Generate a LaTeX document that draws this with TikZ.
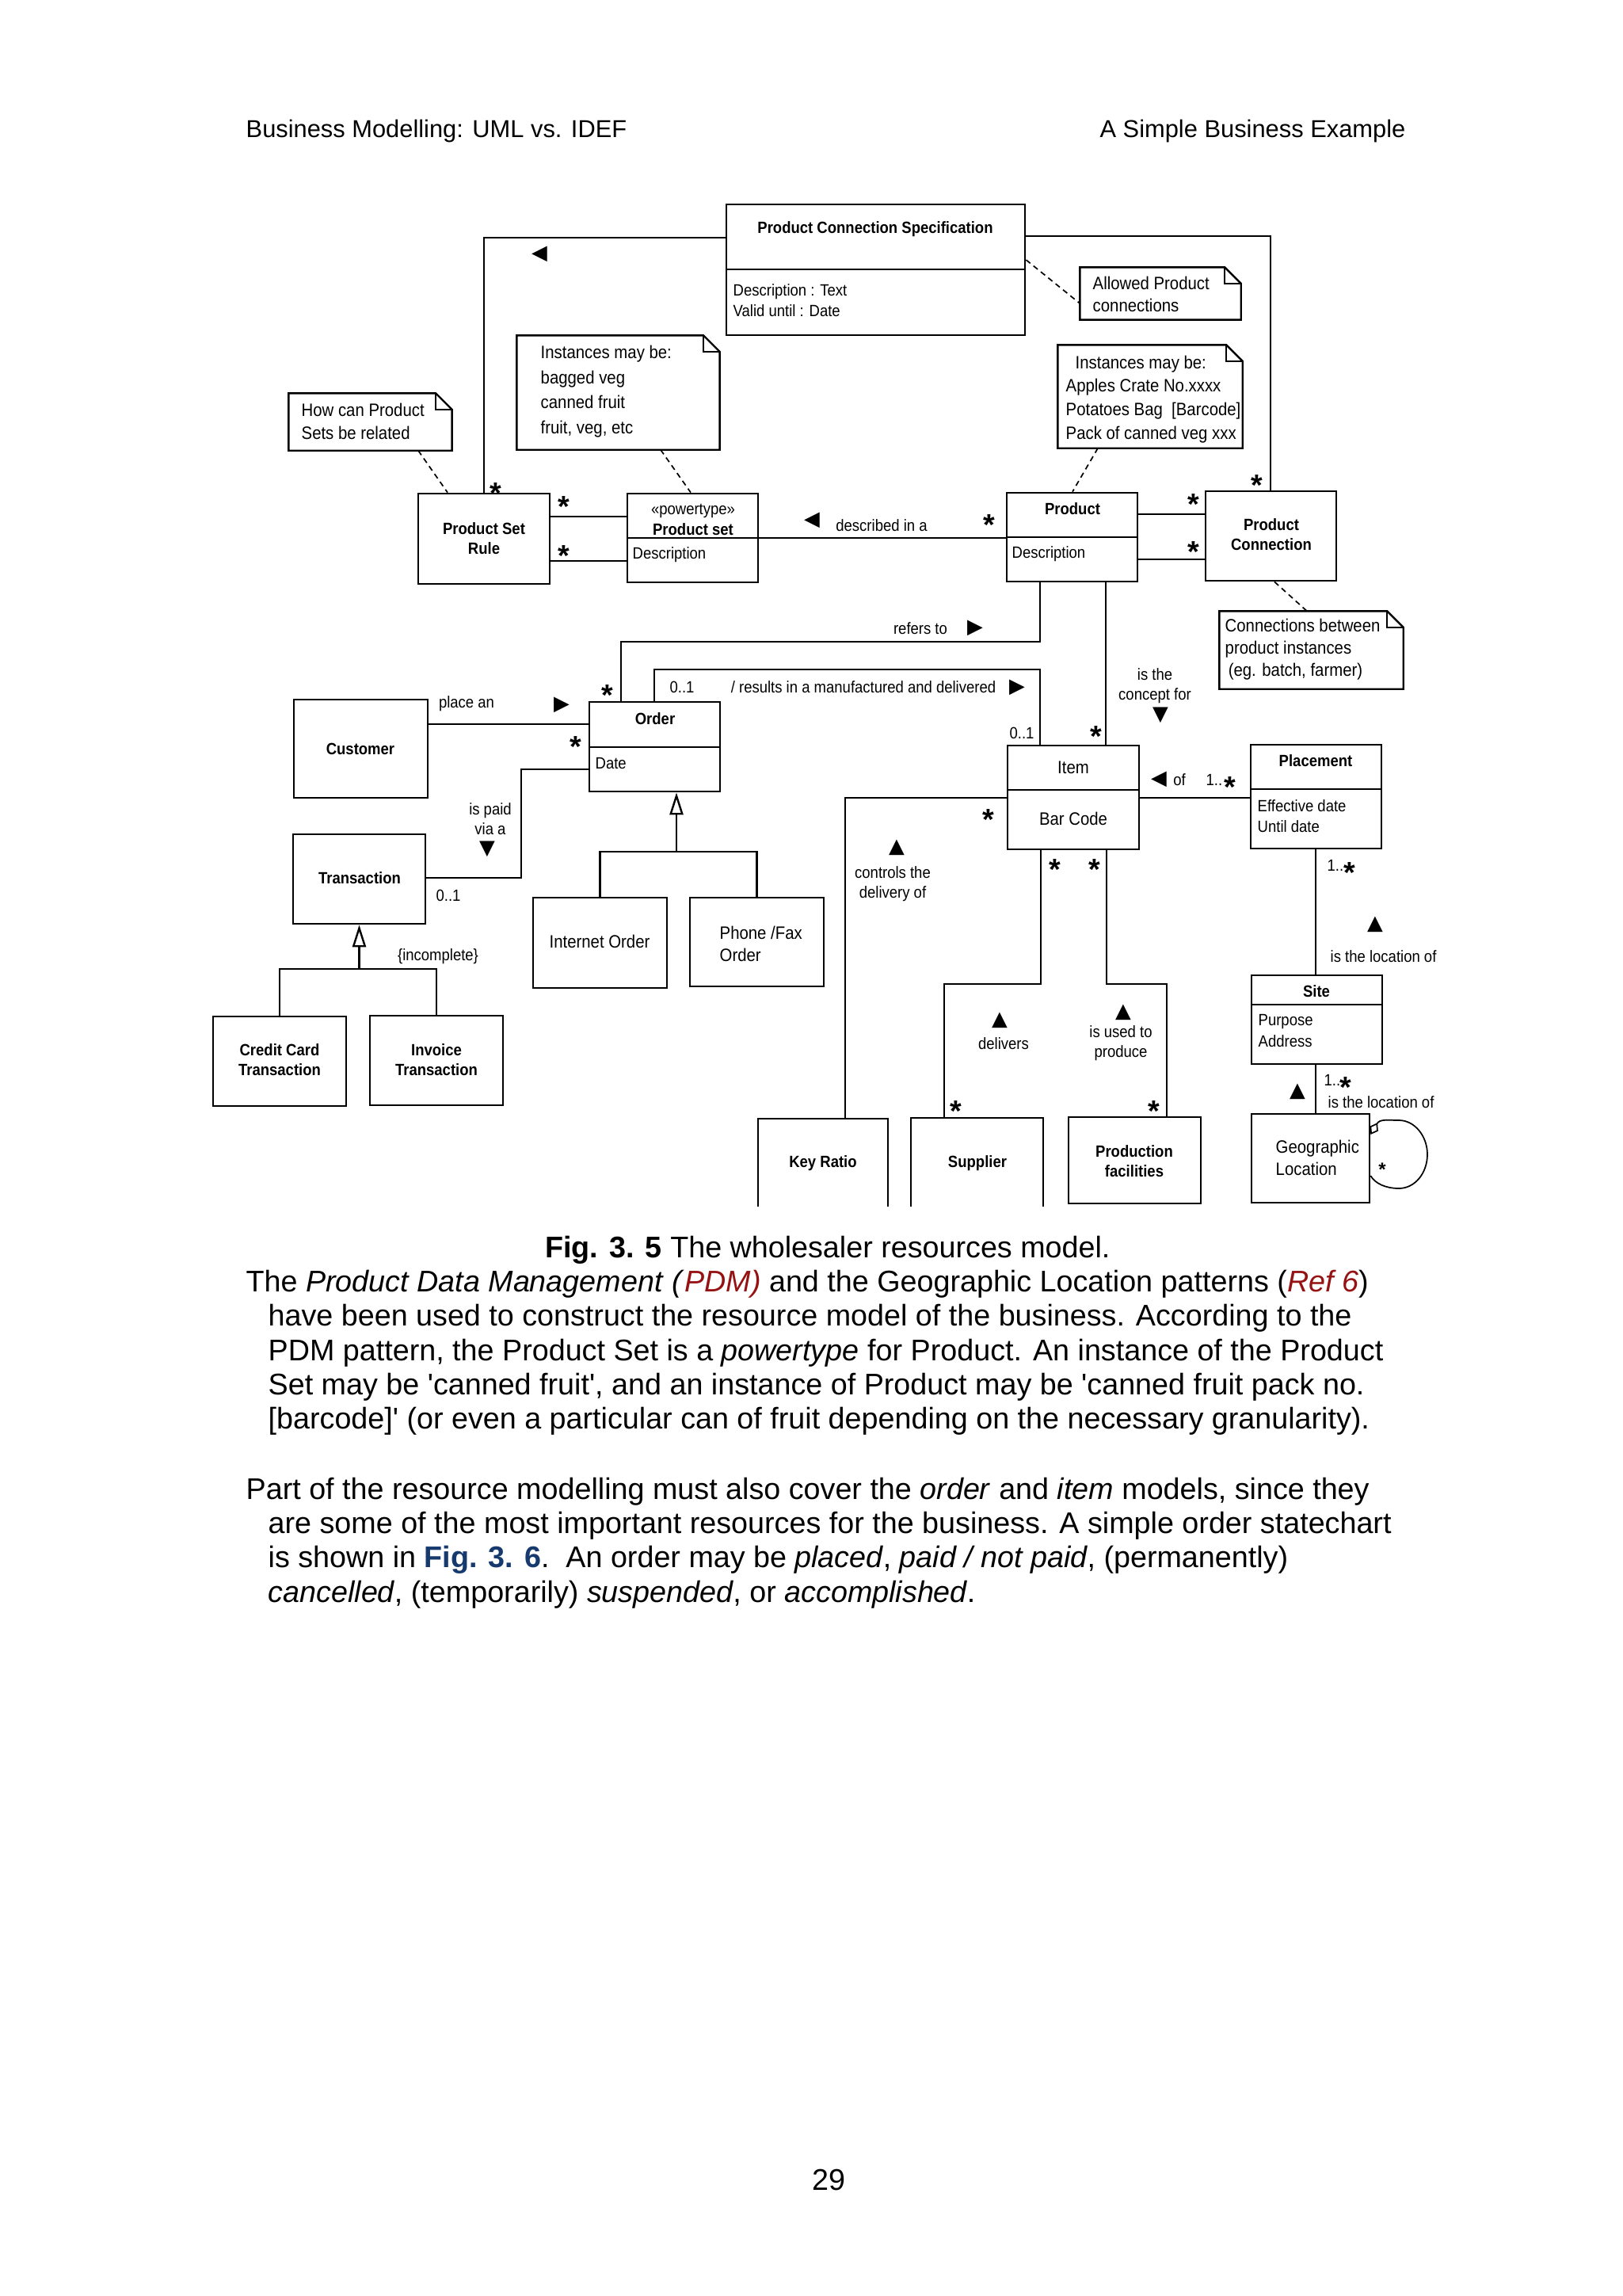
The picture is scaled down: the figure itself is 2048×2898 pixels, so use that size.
\documentclass[tikz,border=0pt]{standalone}
\usepackage{fontspec}
\setmainfont{Liberation Sans}
\newfontfamily\bodyfont{Liberation Sans}
\newfontfamily\figfont[FakeStretch=0.9]{Liberation Sans}
\newfontfamily\symfont{DejaVu Sans}
\usetikzlibrary{arrows.meta,fit}
\definecolor{pdmred}{RGB}{150,18,18}
\definecolor{figblue}{RGB}{22,58,110}
% UML note outline with folded corner
\newcommand{\dognote}[1]{%
	\draw[line width=0.7pt] (#1.north west) -- ([xshift=-6pt]#1.north east) -- ([yshift=-6pt]#1.north east) -- (#1.south east) -- (#1.south west) -- cycle;
	\draw[line width=0.7pt] ([xshift=-6pt]#1.north east) |- ([yshift=-6pt]#1.north east);}

\begin{document}
\begin{tikzpicture}[x=0.010254cm, y=-0.010254cm,
	cls/.style	= {draw, line width=0.8pt, inner sep=0pt},
	notebox/.style	= {inner sep=0pt},
	compart/.style	= {line width=0.8pt},
	assoc/.style	= {line width=0.7pt},
	nlink/.style	= {line width=0.5pt, dash pattern=on 2pt off 1.5pt},
	gen/.style	= {line width=0.7pt, -{Triangle[open, length=8.2pt, width=5pt]}},
	lbl/.style	= {inner sep=0pt, align=center, font=\figfont\fontsize{6}{7.3}\selectfont},
	ttl/.style	= {inner sep=0pt, align=center, font=\figfont\bfseries\fontsize{6}{7.3}\selectfont},
	attr/.style	= {inner sep=0pt, align=left, anchor=west, font=\figfont\fontsize{6}{7.6}\selectfont},
	ntxt/.style	= {inner sep=0pt, align=left, anchor=west, font=\figfont\fontsize{6.6}{8.5}\selectfont},
	mstar/.style	= {inner sep=0pt, text height=3.2pt, text depth=0pt, font=\bfseries\fontsize{11}{11}\selectfont, node contents={\raisebox{-5pt}{*}}},
	ntri/.style	= {inner sep=0pt, font=\symfont\fontsize{7.5}{7.5}\selectfont},
	body/.style	= {inner sep=0pt, anchor=base west, font=\bodyfont\fontsize{11}{12.65}\selectfont}]

\fill[white] (0,0) rectangle (2048,2898);
\useasboundingbox (0,0) rectangle (2048,2898);

% page header
\node (hdL) at (310,173)	[body, font=\bodyfont\fontsize{9}{10}\selectfont]	{Business Modelling: UML vs. IDEF};
\node (hdR) at (1775,173)	[body, anchor=base east, font=\bodyfont\fontsize{9}{10}\selectfont]	{A Simple Business Example};

\begin{scope}
\clip (250,240) rectangle (1830,1522);

% classes
\node (pcs)	[cls, fit={(917,258) (1294,423)}]	{};
\node (psr)	[cls, fit={(528,623) (694,737)}]	{};
\node (ps)	[cls, fit={(792,623) (957,735)}]	{};
\node (prod)	[cls, fit={(1271,622) (1436,734)}]	{};
\node (pc)	[cls, fit={(1522,620) (1687,733)}]	{};
\node (cust)	[cls, fit={(371,883) (540,1007)}]	{};
\node (ord)	[cls, fit={(744,886) (909,999)}]	{};
\node (trn)	[cls, fit={(370,1053) (537,1166)}]	{};
\node (cct)	[cls, fit={(269,1283) (437,1396)}]	{};
\node (inv)	[cls, fit={(467,1282) (635,1395)}]	{};
\node (io)	[cls, fit={(673,1133) (842,1247)}]	{};
\node (pf)	[cls, fit={(871,1133) (1040,1245)}]	{};
\node (item)	[cls, fit={(1272,941) (1438,1072)}]	{};
\node (plc)	[cls, fit={(1579,940) (1744,1071)}]	{};
\node (site)	[cls, fit={(1580,1231) (1745,1343)}]	{};
\node (geo)	[cls, fit={(1580,1406) (1729,1518)}]	{};
\node (kr)	[cls, fit={(957,1412) (1121,1545)}]	{};
\node (sup)	[cls, fit={(1150,1411) (1317,1545)}]	{};
\node (prf)	[cls, fit={(1349,1410) (1516,1519)}]	{};

% compartments
\draw[compart] (pcs.west |- 0,340) -- (pcs.east |- 0,340);
\draw[compart] (ps.west |- 0,679) -- (ps.east |- 0,679);
\draw[compart] (prod.west |- 0,678) -- (prod.east |- 0,678);
\draw[compart] (ord.west |- 0,943) -- (ord.east |- 0,943);
\draw[compart] (item.west |- 0,997) -- (item.east |- 0,997);
\draw[compart] (plc.west |- 0,996) -- (plc.east |- 0,996);
\draw[compart] (site.west |- 0,1268) -- (site.east |- 0,1268);

% class texts
\node (tPcs) at (1105,289)	[ttl]	{Product Connection Specification};
\node (aPcs) at (925,379)	[attr]	{Description : Text\\Valid until : Date};
\node (tPsr) at (611,680)	[ttl]	{Product Set\\Rule};
\node (kPs) at (875,645)	[lbl]	{«powertype»};
\node (tPs) at (875,668)	[ttl]	{Product set};
\node (aPs) at (798,700)	[attr]	{Description};
\node (tProd) at (1354,642)	[ttl]	{Product};
\node (aProd) at (1277,699)	[attr]	{Description};
\node (tPc) at (1605,675)	[ttl]	{Product\\Connection};
\node (tCust) at (455,945)	[ttl]	{Customer};
\node (tOrd) at (827,907)	[ttl]	{Order};
\node (aOrd) at (751,964)	[attr]	{Date};
\node (tTrn) at (454,1108)	[ttl]	{Transaction};
\node (tCct) at (353,1338)	[ttl]	{Credit Card\\Transaction};
\node (tInv) at (551,1338)	[ttl]	{Invoice\\Transaction};
\node (tIo) at (757,1188)	[lbl, font=\figfont\fontsize{6.6}{8.2}\selectfont]	{Internet Order};
\node (tPf) at (908,1191)	[ntxt, font=\figfont\fontsize{6.6}{8.2}\selectfont]	{Phone /Fax\\Order};
\node (tItem) at (1355,969)	[lbl, font=\figfont\fontsize{6.6}{8.2}\selectfont]	{Item};
\node (aItem) at (1355,1033)	[lbl, font=\figfont\fontsize{6.6}{8.2}\selectfont]	{Bar Code};
\node (tPlc) at (1661,960)	[ttl]	{Placement};
\node (aPlc) at (1587,1030)	[attr]	{Effective date\\Until date};
\node (tSite) at (1662,1251)	[ttl]	{Site};
\node (aSite) at (1588,1301)	[attr]	{Purpose\\Address};
\node (tGeo) at (1610,1461)	[ntxt, font=\figfont\fontsize{6.6}{8.2}\selectfont]	{Geographic\\Location};
\node (tKr) at (1039,1468)	[ttl]	{Key Ratio};
\node (tSup) at (1234,1468)	[ttl]	{Supplier};
\node (tPrf) at (1432,1466)	[ttl]	{Production\\facilities};

% notes
\node (nHow)	[notebox, fit={(365,497) (570,568)}]	{};
\node (nPs)	[notebox, fit={(653,424) (908,567)}]	{};
\node (nAl)	[notebox, fit={(1364,338) (1566,403)}]	{};
\node (nPr)	[notebox, fit={(1336,436) (1568,565)}]	{};
\node (nCo)	[notebox, fit={(1540,772) (1771,869)}]	{};
\dognote{nHow}
\dognote{nPs}
\dognote{nAl}
\dognote{nPr}
\dognote{nCo}
\node (xHow) at (380,532)	[ntxt]	{How can Product\\Sets be related};
\node (xPs) at (682,494)	[ntxt, font=\figfont\fontsize{6.6}{9.2}\selectfont]	{Instances may be:\\bagged veg\\canned fruit\\fruit, veg, etc};
\node (xAl) at (1379,371)	[ntxt, font=\figfont\fontsize{6.6}{8.2}\selectfont]	{Allowed Product\\connections};
\node (xPr) at (1345,504)	[ntxt, font=\figfont\fontsize{6.6}{8.7}\selectfont]	{\hspace*{3.5pt}Instances may be:\\Apples Crate No.xxxx\\Potatoes Bag\enspace [Barcode]\\Pack of canned veg xxx};
\node (xCo) at (1546,820)	[ntxt, font=\figfont\fontsize{6.6}{8.2}\selectfont]	{Connections between\\product instances\\\hspace*{1.2pt}(eg. batch, farmer)};
\draw[nlink] (nHow.south -| 528,0) -- (psr.north -| 565,0);
\draw[nlink] (nPs.south -| 834,0) -- (ps.north -| 872,0);
\draw[nlink] (pcs.east |- 0,328) -- (nAl.west |- 0,383);
\draw[nlink] (nPr.south -| 1386,0) -- (prod.north -| 1354,0);
\draw[nlink] (pc.south -| 1609,0) -- (nCo.north -| 1650,0);

% associations
\draw[assoc] (pcs.west |- 0,300) -| (psr.north -| 611,0);
\draw[assoc] (pcs.east |- 0,298) -| (pc.north -| 1604,0);
\draw[assoc] (psr.east |- 0,652) -- (ps.west |- 0,652);
\draw[assoc] (psr.east |- 0,708) -- (ps.west |- 0,708);
\draw[assoc] (ps.east |- 0,679) -- (prod.west |- 0,679);
\draw[assoc] (prod.east |- 0,649) -- (pc.west |- 0,649);
\draw[assoc] (prod.east |- 0,706) -- (pc.west |- 0,706);
\draw[assoc] (prod.south -| 1313,0) -- (1313,810) -| (ord.north -| 784,0);
\draw[assoc] (ord.north -| 826,0) -- (826,845) -| (item.north -| 1313,0);
\draw[assoc] (prod.south -| 1396,0) -- (item.north -| 1396,0);
\draw[assoc] (cust.east |- 0,914) -- (ord.west |- 0,914);
\draw[assoc] (ord.west |- 0,971) -| (658,1108) -- (trn.east |- 0,1108);
\draw[assoc] (item.east |- 0,1007) -- (plc.west |- 0,1007);
\draw[assoc] (plc.south -| 1661,0) -- (site.north -| 1661,0);
\draw[assoc] (site.south -| 1661,0) -- (geo.north -| 1661,0);
\draw[assoc] (item.west |- 0,1007) -| (kr.north -| 1067,0);
\draw[assoc] (item.south -| 1314,0) -- (1314,1242) -| (sup.north -| 1192,0);
\draw[assoc] (item.south -| 1397,0) -- (1397,1242) -| (prf.north -| 1473,0);
\draw[line width=0.5pt, {Diamond[open, length=5pt, width=3.5pt]}-] (geo.east |- 0,1432) .. controls (1742,1412) and (1752,1414) .. (1766,1414) .. controls (1786,1414) and (1802,1434) .. (1802,1457) .. controls (1802,1481) and (1786,1500) .. (1766,1500) .. controls (1750,1500) and (1736,1494) .. (geo.east |- 0,1484);

% generalisations
\coordinate (trnGen) at (trn.south |- 0,1223);
\coordinate (ordGen) at (854,1075);
\draw[assoc] (cct.north) |- (trnGen) -| (inv.north);
\draw[gen] (trnGen) -- (trn.south);
\draw[assoc] (io.north) |- (ordGen) -| (pf.north);
\draw[gen] (ordGen) -- (ord.south -| ordGen);

% association names and direction marks
\node (dPcs) at (681,321)	[ntri]	{◀};
\node (lDesc) at (1113,663)	[lbl]	{described in a};
\node (dDesc) at (1025,657)	[ntri]	{◀};
\node (lRef) at (1162,793)	[lbl]	{refers to};
\node (dRef) at (1231,793)	[ntri]	{▶};
\node (lRes) at (1090,867)	[lbl]	{/ results in a manufactured and delivered};
\node (dRes) at (1284,868)	[ntri]	{▶};
\node (lCon) at (1458,866)	[lbl]	{is the\\concept for};
\node (dCon) at (1465,903)	[ntri]	{▼};
\node (dOf) at (1463,984)	[ntri]	{◀};
\node (lOf) at (1489,984)	[lbl]	{of};
\node (dLoc) at (1736,1167)	[ntri]	{▲};
\node (lLoc) at (1679,1207)	[lbl, anchor=west]	{is the location of};
\node (dGeo) at (1638,1378)	[ntri]	{▲};
\node (lGeo) at (1676,1391)	[lbl, anchor=west]	{is the location of};
\node (lPlace) at (589,888)	[lbl]	{place an};
\node (dPlace) at (709,890)	[ntri]	{▶};
\node (lPaid) at (619,1034)	[lbl]	{is paid\\via a};
\node (dPaid) at (615,1072)	[ntri]	{▼};
\node (lInc) at (553,1207)	[lbl]	{\{incomplete\}};
\node (dCtl) at (1132,1070)	[ntri]	{▲};
\node (lCtl) at (1127,1116)	[lbl]	{controls the\\delivery of};
\node (dDel) at (1262,1288)	[ntri]	{▲};
\node (lDel) at (1267,1317)	[lbl]	{delivers};
\node (dUse) at (1418,1278)	[ntri]	{▲};
\node (lUse) at (1415,1317)	[lbl]	{is used to\\produce};

% multiplicities
\node (mRes) at (861,867)	[lbl]	{0..1};
\node (mItem) at (1290,925)	[lbl]	{0..1};
\node (mTrn) at (566,1130)	[lbl]	{0..1};
\node (mOf) at (1522,984)	[lbl, anchor=west]	{1..};
\node (mLoc) at (1675,1092)	[lbl, anchor=west]	{1..};
\node (mGeo) at (1671,1363)	[lbl, anchor=west]	{1..};
\node (sA) at (626,613)	[mstar];
\node (sB) at (1587,603)	[mstar];
\node (sC) at (712,630)	[mstar];
\node (sD) at (712,692)	[mstar];
\node (sE) at (1249,653)	[mstar];
\node (sF) at (1507,627)	[mstar];
\node (sG) at (1507,687)	[mstar];
\node (sH) at (767,868)	[mstar];
\node (sI) at (1384,920)	[mstar];
\node (sJ) at (727,933)	[mstar];
\node (sK) at (1248,1025)	[mstar];
\node (sL) at (1332,1088)	[mstar];
\node (sM) at (1382,1088)	[mstar];
\node (sN) at (1207,1393)	[mstar];
\node (sO) at (1457,1393)	[mstar];
\node (sP) at (1553,984)	[mstar];
\node (sQ) at (1704,1092)	[mstar];
\node (sR) at (1699,1363)	[mstar];
\node (sS) at (1745,1476)	[lbl, font=\bfseries\fontsize{7}{7}\selectfont]	{*};
\end{scope}

% caption and body text
\node (cap) at (1045,1587)	[body, anchor=base]	{\textbf{Fig. 3. 5} The wholesaler resources model.};
\node (p1a) at (310,1630)	[body]	{The \textit{Product Data Management} \textit{(}\textcolor{pdmred}{\textit{PDM)}} and the Geographic Location patterns (\textcolor{pdmred}{\textit{Ref 6}})};
\node (p1b) at (338,1673)	[body]	{have been used to construct the resource model of the business. According to the};
\node (p1c) at (338,1717)	[body]	{PDM pattern, the Product Set is a \textit{powertype} for Product. An instance of the Product};
\node (p1d) at (338,1760)	[body]	{Set may be 'canned fruit', and an instance of Product may be 'canned fruit pack no.};
\node (p1e) at (338,1803)	[body]	{[barcode]' (or even a particular can of fruit depending on the necessary granularity).};
\node (p2a) at (310,1892)	[body]	{Part of the resource modelling must also cover the \textit{order} and \textit{item} models, since they};
\node (p2b) at (338,1935)	[body]	{are some of the most important resources for the business. A simple order statechart};
\node (p2c) at (338,1978)	[body]	{is shown in \textcolor{figblue}{\textbf{Fig. 3. 6}}.\ \ An order may be \textit{placed}, \textit{paid / not paid}, (permanently)};
\node (p2d) at (338,2022)	[body]	{\textit{cancelled}, (temporarily) \textit{suspended}, or \textit{accomplished}.};
\node (pgno) at (1046,2764)	[body, anchor=base]	{29};
\end{tikzpicture}
\end{document}
